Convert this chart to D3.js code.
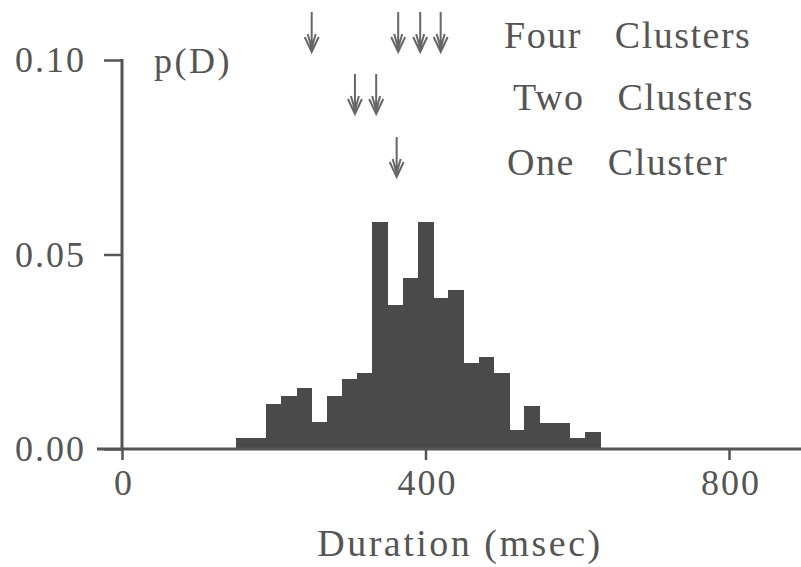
<!DOCTYPE html>
<html>
  <head>
    <meta charset="UTF-8">
    <title>duration histogram</title>
    <style>
      body {
        margin: 0;
        background: #fff;
      }
      .axis path, .axis line {
        stroke: #555;
      }
    </style>
    <script src="https://d3js.org/d3.v7.min.js"></script>
  </head>
  <body>
    <div class="graph1"></div>
    <script>
      // histogram bins (start of bin, msec) and probabilities
      var binStarts = [150, 170, 190, 210, 230, 250, 270, 290, 310, 330, 350, 370,
                       390, 410, 430, 450, 470, 490, 510, 530, 550, 570, 590, 610];
      var binProbs = [0.0028, 0.0028, 0.0116, 0.0136, 0.0157, 0.0069, 0.0136, 0.0180,
                      0.0195, 0.0584, 0.0370, 0.0440, 0.0584, 0.0388, 0.0410, 0.0221,
                      0.0237, 0.0195, 0.0049, 0.0110, 0.0067, 0.0067, 0.0028, 0.0044];
      var binWidth = 20;

      // cluster centres marked by arrows
      var clusterLabels = ["Four  Clusters", "Two  Clusters", "One  Cluster"];
      var clusterCentres = [
        [250, 364, 393, 420],
        [307, 335],
        [362]
      ];

      var xTicks = [0, 400, 800];
      var yTicks = [0, 0.05, 0.10];

      var width = 801, height = 567;
      var serif = "'Liberation Serif', 'Times New Roman', serif";
      var ink = "#555";

      var svg = d3.select(".graph1").append("svg")
        .attr("width", width)
        .attr("height", height);

      var x = d3.scaleLinear().domain([0, 800]).range([122, 729]);
      var y = d3.scaleLinear().domain([0, 0.10]).range([449, 60]);

      function label(sel, size, spacing) {
        return sel
          .style("font-family", serif)
          .style("font-size", size + "px")
          .style("letter-spacing", spacing + "px")
          .attr("fill", ink);
      }

      // bars
      svg.append("g")
        .selectAll("rect")
        .data(binStarts)
        .enter().append("rect")
          .attr("x", function(d) { return x(d); })
          .attr("width", function(d) { return x(d + binWidth) - x(d) + 0.6; })
          .attr("y", function(d, i) { return y(binProbs[i]); })
          .attr("height", function(d, i) { return y(0) - y(binProbs[i]); })
          .attr("fill", "#4a4a4a")
          .attr("shape-rendering", "crispEdges");

      // x axis: baseline runs past the frame on both sides
      var xAxis = svg.append("g")
        .attr("class", "axis")
        .attr("transform", "translate(0," + y(0) + ")")
        .call(d3.axisBottom(x).tickValues(xTicks).tickSize(11).tickFormat(""));
      xAxis.select(".domain").remove();
      xAxis.selectAll("line").attr("stroke-width", 2.5);
      xAxis.append("line")
        .attr("x1", 97).attr("x2", width)
        .attr("stroke", ink).attr("stroke-width", 3);

      label(xAxis.selectAll(".xlab")
        .data(xTicks)
        .enter().append("text")
          .attr("class", "xlab")
          .attr("x", function(d) { return x(d) + 2; })
          .attr("y", 46)
          .attr("text-anchor", "middle")
          .text(function(d) { return d; }), 36, 2);

      // y axis
      var yAxis = svg.append("g")
        .attr("class", "axis")
        .attr("transform", "translate(" + x(0) + ",0)")
        .call(d3.axisLeft(y).tickValues(yTicks).tickSize(18).tickFormat(""));
      yAxis.select(".domain").remove();
      yAxis.selectAll("line").attr("stroke-width", 2.5);
      yAxis.append("line")
        .attr("y1", y(0.10) - 1).attr("y2", y(0))
        .attr("stroke", ink).attr("stroke-width", 3);

      label(yAxis.selectAll(".ylab")
        .data(yTicks)
        .enter().append("text")
          .attr("class", "ylab")
          .attr("x", -36)
          .attr("y", function(d) { return y(d) + 12; })
          .attr("text-anchor", "end")
          .text(function(d) { return d3.format(".2f")(d); }), 36, 2);

      label(svg.append("text")
        .attr("x", 154)
        .attr("y", 73)
        .text("p(D)"), 36, 2.5);

      label(svg.append("text")
        .attr("x", 460)
        .attr("y", 556)
        .attr("text-anchor", "middle")
        .text("Duration (msec)"), 38, 2.5);

      // cluster rows: arrows plus label
      var rowTop = [12, 74, 137];
      var labelX = [504, 513, 507];
      var labelY = [48, 110, 175];
      var arrowLen = 40;

      clusterCentres.forEach(function(centres, r) {
        var g = svg.append("g");
        g.selectAll("path")
          .data(centres)
          .enter().append("path")
            .attr("d", function(d) {
              var cx = x(d), t = rowTop[r], b = t + arrowLen;
              return "M" + cx + "," + t + "V" + b +
                "M" + (cx - 7) + "," + (b - 15) + "L" + cx + "," + b + "L" + (cx + 7) + "," + (b - 15) +
                "M" + (cx - 4) + "," + (b - 18) + "L" + cx + "," + (b - 4) + "L" + (cx + 4) + "," + (b - 18);
            })
            .attr("fill", "none")
            .attr("stroke", "#666")
            .attr("stroke-width", 2);

        label(g.append("text")
          .attr("x", labelX[r])
          .attr("y", labelY[r])
          .style("word-spacing", "22px")
          .text(clusterLabels[r]), 38, 1.5);
      });
    </script>
  </body>
</html>
